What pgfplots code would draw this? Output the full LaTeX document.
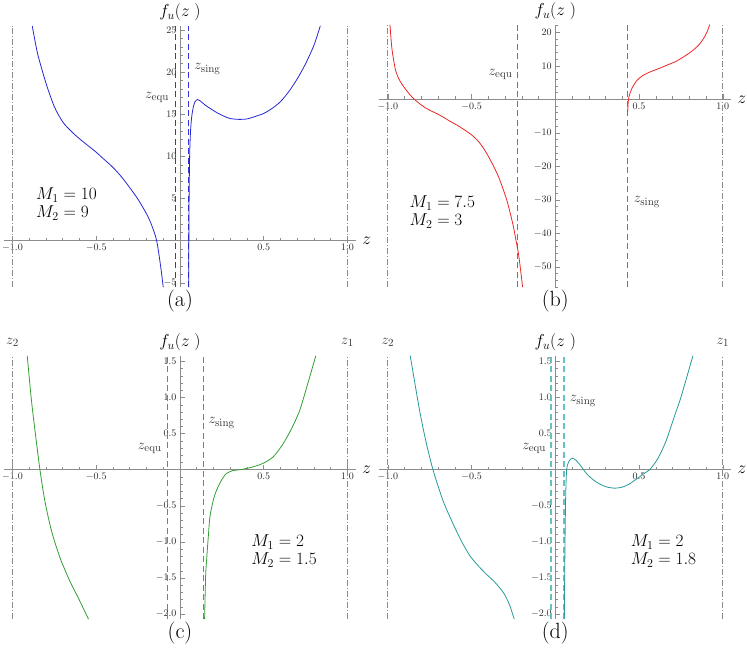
\documentclass[border=0pt]{standalone}
\usepackage{pgfplots}
\pgfplotsset{compat=1.18}
\definecolor{cA}{rgb}{0.15,0.15,0.82}
\definecolor{cAd}{rgb}{0.2,0.2,0.85}
\definecolor{cB}{rgb}{0.92,0.15,0.15}
\definecolor{cBd}{rgb}{0.9,0.28,0.28}
\definecolor{cC}{rgb}{0.2,0.62,0.2}
\definecolor{cCd}{rgb}{0.25,0.65,0.25}
\definecolor{cD}{rgb}{0.15,0.6,0.6}
\definecolor{cDd}{rgb}{0.4,0.76,0.76}
\definecolor{axgray}{rgb}{0.55,0.55,0.55}
\tikzset{
  zl/.style={font=\fontsize{15}{16}\selectfont, text=black!80},
  ml/.style={font=\fontsize{18}{18}\selectfont, anchor=west, align=left},
  captn/.style={font=\fontsize{22}{24}\selectfont},
  bnd/.style={draw=axgray, line width=0.6pt, dash pattern=on 6pt off 2pt on 1pt off 2pt},
  crv/.style={line width=0.8pt, smooth, tension=0.45},
  dsh/.style={line width=1.4pt, dash pattern=on 6pt off 3.5pt},
}
\pgfplotsset{
  panel/.style={
    scale only axis, width=351.75pt,
    xmin=-1.05, xmax=1.05,
    clip mode=individual,
    axis lines=middle,
    axis line style={draw=axgray, line width=0.6pt, -},
    tick style={axgray, line width=0.5pt},
    tick align=inside,
    major tick length=5pt, minor tick length=3pt,
    xtick={-1,-0.5,0.5,1},
    minor xtick={-1,-0.9,-0.8,-0.7,-0.6,-0.5,-0.4,-0.3,-0.2,-0.1,0.1,0.2,0.3,0.4,0.5,0.6,0.7,0.8,0.9,1},
    xticklabel style={/pgf/number format/.cd, fixed, fixed zerofill, precision=1},
    ticklabel style={font=\fontsize{10}{12}\selectfont, text=black!85},
    xlabel={$z$}, ylabel={$f_u(z\;)$},
    xlabel style={font=\fontsize{18}{20}\selectfont, anchor=west, xshift=3pt},
    ylabel style={font=\fontsize{18}{20}\selectfont, anchor=south, yshift=1pt},
  },
}
\begin{document}
\begin{tikzpicture}
\useasboundingbox (0,0) rectangle (747pt,-650pt);
% ---------------- (a)
\begin{axis}[panel, at={(4.1pt,-287.1pt)}, anchor=south west,
  height=261.3pt, ymin=-5.5, ymax=25.5,
  ytick={-5,5,10,15,20,25},
  minor ytick={-5,-4,...,25}]
\addplot[bnd] coordinates {(-1,-5.5) (-1,25.5)};
\addplot[bnd] coordinates {(1,-5.5) (1,25.5)};
\addplot[draw=cAd, dsh] coordinates {(-0.026,-5.5) (-0.026,25.5)};
\addplot[draw=cAd, dsh] coordinates {(0.05,-5.5) (0.05,25.5)};
\addplot[color=cA, crv] coordinates {
(-0.882,25.5) (-0.85,22.2) (-0.80,18.7) (-0.75,15.9) (-0.70,14.1) (-0.65,13.0) (-0.60,12.1)
(-0.55,11.3) (-0.50,10.5) (-0.45,9.6) (-0.40,8.7) (-0.35,7.6) (-0.30,6.3) (-0.25,4.9)
(-0.20,3.2) (-0.17,1.9) (-0.139,0) (-0.115,-3.1) (-0.100,-5.5)};
\addplot[color=cA, crv] coordinates {
(0.052,-5.5) (0.053,0) (0.055,6) (0.058,10.3) (0.063,13) (0.07,14.7) (0.08,15.9) (0.09,16.5)
(0.105,16.75) (0.12,16.6) (0.15,16.1) (0.18,15.7) (0.22,15.2) (0.26,14.8) (0.30,14.5)
(0.35,14.4) (0.40,14.45) (0.45,14.75) (0.50,15.1) (0.55,15.7) (0.60,16.5) (0.65,17.7)
(0.70,19.2) (0.75,21.0) (0.80,23.2) (0.838,25.5)};
\node[zl, anchor=east] at (axis cs:-0.045,17.0) {$z_{\mathrm{equ}}$};
\node[zl, anchor=west] at (axis cs:0.065,20.4) {$z_{\mathrm{sing}}$};
\node[ml] at (axis cs:-0.88,4.35) {$M_1=10$\\$M_2=9$};
\node[captn] at (axis cs:0,-5.5) [yshift=-14pt] {(a)};
\end{axis}
% ---------------- (b)
\begin{axis}[panel, at={(379.4pt,-287.2pt)}, anchor=south west,
  height=262.6pt, ymin=-56.1, ymax=22.3,
  ytick={-50,-40,-30,-20,-10,10,20},
  minor ytick={-56,-54,...,22}]
\addplot[bnd] coordinates {(-1,-56.1) (-1,22.3)};
\addplot[bnd] coordinates {(1,-56.1) (1,22.3)};
\addplot[draw=cBd, dsh] coordinates {(-0.225,-56.1) (-0.225,22.3)};
\addplot[draw=cBd, dsh] coordinates {(0.432,-56.1) (0.432,22.3)};
\addplot[color=cB, crv] coordinates {
(-0.987,22.3) (-0.975,15) (-0.955,9) (-0.935,6.2) (-0.915,4.5) (-0.88,2.1) (-0.846,0.2)
(-0.81,-1.3) (-0.777,-2.5) (-0.74,-3.5) (-0.698,-4.5) (-0.66,-5.6) (-0.62,-6.8)
(-0.58,-7.9) (-0.54,-9.2) (-0.50,-10.6) (-0.46,-12.5) (-0.43,-14.5) (-0.40,-17)
(-0.37,-19.8) (-0.34,-23) (-0.315,-26.3) (-0.29,-30) (-0.27,-33.8) (-0.25,-38)
(-0.235,-42) (-0.22,-46) (-0.207,-51) (-0.195,-56.1)};
\addplot[color=cB, crv] coordinates {
(0.433,-3.5) (0.435,-1) (0.44,0.8) (0.447,1.9) (0.46,3.5) (0.487,5.6) (0.52,7.0)
(0.567,8.2) (0.62,9.2) (0.667,10.2) (0.72,11.3) (0.767,12.7) (0.80,13.8) (0.826,14.8)
(0.86,16.4) (0.886,18.2) (0.905,20) (0.922,22.3)};
\node[zl, anchor=east] at (axis cs:-0.235,7.3) {$z_{\mathrm{equ}}$};
\node[zl, anchor=west] at (axis cs:0.448,-30.6) {$z_{\mathrm{sing}}$};
\node[ml] at (axis cs:-0.89,-33.7) {$M_1=7.5$\\$M_2=3$};
\node[captn] at (axis cs:0,-56.1) [yshift=-14pt] {(b)};
\end{axis}
% ---------------- (c)
\begin{axis}[panel, at={(4.1pt,-619.2pt)}, anchor=south west,
  height=263.5pt, ymin=-2.07, ymax=1.58,
  ytick={-2,-1.5,-1,-0.5,0.5,1,1.5},
  minor ytick={-2,-1.9,-1.8,-1.7,-1.6,-1.5,-1.4,-1.3,-1.2,-1.1,-1,-0.9,-0.8,-0.7,-0.6,-0.5,-0.4,-0.3,-0.2,-0.1,0.1,0.2,0.3,0.4,0.5,0.6,0.7,0.8,0.9,1,1.1,1.2,1.3,1.4,1.5},
  yticklabel style={/pgf/number format/.cd, fixed, fixed zerofill, precision=1}]
\addplot[bnd] coordinates {(-1,-2.07) (-1,1.58)};
\addplot[bnd] coordinates {(1,-2.07) (1,1.58)};
\addplot[draw=cCd, dsh] coordinates {(-0.073,-2.07) (-0.073,1.58)};
\addplot[draw=cCd, dsh] coordinates {(0.139,-2.07) (0.139,1.58)};
\addplot[color=cC, crv] coordinates {
(-0.912,1.58) (-0.886,0.946) (-0.86,0.438) (-0.836,0) (-0.806,-0.44) (-0.766,-0.855)
(-0.716,-1.22) (-0.656,-1.55) (-0.606,-1.78) (-0.546,-2.07)};
\addplot[color=cC, crv] coordinates {
(0.147,-2.07) (0.153,-1.48) (0.159,-1.25) (0.169,-0.93) (0.179,-0.65) (0.199,-0.42)
(0.219,-0.28) (0.249,-0.14) (0.278,-0.05) (0.318,-0.01) (0.358,0.0) (0.40,0.02) (0.437,0.04)
(0.497,0.09) (0.557,0.18) (0.616,0.36) (0.666,0.57) (0.716,0.83) (0.775,1.29) (0.811,1.58)};
\node[zl, anchor=east] at (axis cs:-0.088,0.30) {$z_{\mathrm{equ}}$};
\node[zl, anchor=west] at (axis cs:0.15,0.65) {$z_{\mathrm{sing}}$};
\node[zl] at (axis cs:-1,1.58) [yshift=13pt] {$z_2$};
\node[zl] at (axis cs:1,1.58) [yshift=13pt] {$z_1$};
\node[ml] at (axis cs:0.405,-1.126) {$M_1=2$\\$M_2=1.5$};
\node[captn] at (axis cs:0,-2.07) [yshift=-14pt] {(c)};
\end{axis}
% ---------------- (d)
\begin{axis}[panel, at={(379.4pt,-619.2pt)}, anchor=south west,
  height=263.5pt, ymin=-2.07, ymax=1.58,
  ytick={-2,-1.5,-1,-0.5,0.5,1,1.5},
  minor ytick={-2,-1.9,-1.8,-1.7,-1.6,-1.5,-1.4,-1.3,-1.2,-1.1,-1,-0.9,-0.8,-0.7,-0.6,-0.5,-0.4,-0.3,-0.2,-0.1,0.1,0.2,0.3,0.4,0.5,0.6,0.7,0.8,0.9,1,1.1,1.2,1.3,1.4,1.5},
  yticklabel style={/pgf/number format/.cd, fixed, fixed zerofill, precision=1}]
\addplot[bnd] coordinates {(-1,-2.07) (-1,1.58)};
\addplot[bnd] coordinates {(1,-2.07) (1,1.58)};
\addplot[draw=cDd, dsh, line width=1.7pt] coordinates {(-0.024,-2.07) (-0.024,1.58)};
\addplot[draw=cDd, dsh, line width=1.7pt] coordinates {(0.052,-2.07) (0.052,1.58)};
\addplot[color=cD, crv] coordinates {
(-0.866,1.58) (-0.81,0.82) (-0.77,0.37) (-0.73,0) (-0.67,-0.43) (-0.61,-0.75)
(-0.56,-0.99) (-0.51,-1.19) (-0.46,-1.33) (-0.41,-1.45) (-0.36,-1.56) (-0.31,-1.70)
(-0.275,-1.86) (-0.245,-2.07)};
\addplot[color=cD, crv] coordinates {
(0.054,-2.07) (0.058,-1.03) (0.062,-0.38) (0.068,0) (0.082,0.12) (0.102,0.158)
(0.125,0.13) (0.15,0.06) (0.188,-0.056) (0.227,-0.14) (0.267,-0.2) (0.31,-0.24)
(0.357,-0.255) (0.40,-0.24) (0.44,-0.2) (0.487,-0.125) (0.525,-0.06) (0.563,0)
(0.6,0.11) (0.627,0.22) (0.66,0.39) (0.687,0.57) (0.72,0.8) (0.747,0.98)
(0.786,1.29) (0.822,1.58)};
\node[zl, anchor=east] at (axis cs:-0.034,0.30) {$z_{\mathrm{equ}}$};
\node[zl, anchor=west] at (axis cs:0.066,0.955) {$z_{\mathrm{sing}}$};
\node[zl] at (axis cs:-1,1.58) [yshift=13pt] {$z_2$};
\node[zl] at (axis cs:1,1.58) [yshift=13pt] {$z_1$};
\node[ml] at (axis cs:0.43,-1.126) {$M_1=2$\\$M_2=1.8$};
\node[captn] at (axis cs:0,-2.07) [yshift=-14pt] {(d)};
\end{axis}
\end{tikzpicture}
\end{document}
